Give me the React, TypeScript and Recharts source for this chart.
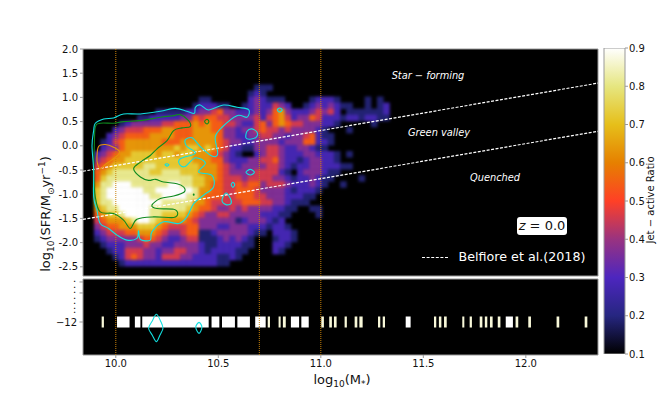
import React from "react";
import { ScatterChart, Scatter, XAxis, YAxis, CartesianGrid, ReferenceLine } from "recharts";

// log10(M*) and log10(SFR) ranges of the two panels
const massRange = [9.84, 12.352];
const sfrRange = [-2.69, 2.0];
const stripRange = [-15, -8.09];

const massTicks = [10.0, 10.5, 11.0, 11.5, 12.0];
const massMinorMarks = [11.12, 11.135, 11.16, 11.21];
const sfrTicks = [2.0, 1.5, 1.0, 0.5, 0.0, -0.5, -1.0, -1.5, -2.0, -2.5];
const stripMarks = [-8.36, -9.36];
const stripTicks = [-8.36, -8.9, -9.36, -9.82, -10.36, -10.73, -11.18, -12];
const ratioTicks = [0.1, 0.2, 0.3, 0.4, 0.5, 0.6, 0.7, 0.8, 0.9];
const splitMasses = [10.0, 10.7, 11.0];

// CMRmap
const colorStops = ["#000000", "#262680", "#4D26BF", "#993380", "#FF4026", "#E68000", "#E6BF1A", "#E6E680", "#FFFFFF"];

// binned jet-active ratio, one string per SFR row, digit 0-9 = ratio 0.1-0.9
const firstMass = 9.85;
const massStep = 0.03;
const firstSfr = 1.2;
const sfrStep = 0.125;
const heatRows = [
  "00000 00000 00000 00000 00000 00011 1",
  "00000 00000 00000 00000 00000 00121",
  "00000 00000 00000 00001 10000 00232 11100 00122 21000 01010",
  "00000 00000 00000 00012 22110 01232 24320 01232 32110 01012",
  "00000 00000 00111 11223 34533 22232 35632 22343 42011 11112",
  "00000 00001 12222 23354 55443 33342 45642 33542 22122 12211",
  "00000 01233 33344 55565 65544 32245 35654 43332 21000 00100",
  "00000 23444 55566 55566 65533 23345 44343 33321 00010",
  "00002 34555 56666 55566 66533 22334 43323 34521 10000",
  "00012 45666 66655 56666 66543 32233 33233 35522 10000",
  "00023 35666 66666 76776 76542 21133 44322 33211",
  "00234 56677 77677 67766 65432 10023 44322 23322 21010",
  "00345 66777 77777 77766 65532 22334 45322 12332 21",
  "00456 77777 88777 77776 66543 23333 44321 22332 22110",
  "00567 88888 87788 87776 66543 33344 44210 23332 11",
  "00578 88888 88888 88877 66544 43444 43321 22321 10000 1",
  "00688 99988 88889 98877 65544 54553 44432 22321 00100",
  "00789 99999 88999 99986 65544 55543 33321 22210",
  "00789 99999 98899 99886 55544 55544 33322 21100",
  "00788 99999 99988 88866 54444 45554 43321 11000",
  "00678 89999 98888 88765 54334 34333 32211 00110",
  "00567 78999 98877 77654 33443 33332 22110 00010",
  "00456 66789 98766 66543 33333 12333 21200",
  "00345 56667 77654 44553 33223 33222 12210",
  "00234 44556 66543 34551 12333 33211 02221",
  "00123 33334 55432 23441 11232 32100 01221",
  "00012 22333 43322 33332 11222 21100 02210",
  "00001 22444 33233 44332 12222 11000 02100",
  "00000 12454 33244 43322 22112 10000",
  "00000 01222 22222 22222 22110",
];

// [mass start, mass end] of the filled bins in the lower panel
const stripBins = [
  [9.931, 9.942], [10.006, 10.067], [10.093, 10.12], [10.129, 10.453], [10.467, 10.505], [10.518, 10.581],
  [10.593, 10.654], [10.68, 10.731], [10.741, 10.752], [10.794, 10.804], [10.815, 10.829], [10.854, 10.894],
  [10.905, 10.941], [11.002, 11.015], [11.041, 11.054], [11.064, 11.077], [11.116, 11.127], [11.165, 11.178],
  [11.188, 11.204], [11.279, 11.29], [11.302, 11.313], [11.414, 11.438], [11.552, 11.563], [11.576, 11.588],
  [11.601, 11.614], [11.69, 11.7], [11.726, 11.737], [11.775, 11.788], [11.8, 11.812], [11.825, 11.838],
  [11.863, 11.876], [11.902, 11.937], [11.95, 11.963], [12.012, 12.025], [12.15, 12.163], [12.287, 12.3],
];

// Belfiore et al. (2018) lines
const upperLine = [[9.84, -0.526], [12.352, 1.295]];
const lowerLine = [[9.84, -1.52], [12.352, 0.3]];

// contours, [mass, sfr]
const cyanMain = [
  [9.892, 0.315], [9.9, 0.466], [9.941, 0.555], [9.989, 0.575], [10.038, 0.658], [10.12, 0.658], [10.217, 0.713],
  [10.29, 0.774], [10.347, 0.713], [10.383, 0.671], [10.388, 0.795], [10.412, 0.843], [10.453, 0.74], [10.526, 0.843],
  [10.591, 0.795], [10.648, 0.747], [10.64, 0.589], [10.591, 0.623], [10.518, 0.383], [10.485, 0.178], [10.497, -0.165],
  [10.469, -0.213], [10.412, -0.014], [10.372, 0.164], [10.339, 0.123], [10.347, -0.014], [10.388, -0.152], [10.315, -0.268],
  [10.311, -0.385], [10.339, -0.426], [10.388, -0.248], [10.437, -0.357], [10.404, -0.542], [10.469, -0.611], [10.477, -0.851],
  [10.428, -1.022], [10.38, -1.194], [10.347, -1.468], [10.307, -1.606], [10.233, -1.571], [10.176, -1.777], [10.168, -1.948],
  [10.12, -1.935], [10.111, -1.756], [10.103, -1.914], [10.054, -1.948], [10.006, -1.846], [9.965, -1.708], [9.924, -1.606],
  [9.908, -1.331], [9.892, -1.057], [9.892, -0.508], [9.884, 0.0],
];
const cyanSmall = [
  [[10.24, -0.392], [10.25, -0.371], [10.259, -0.392], [10.25, -0.419]],
  [[10.635, 0.164], [10.64, 0.301], [10.664, 0.349], [10.689, 0.281], [10.685, 0.178], [10.656, 0.136]],
  [[10.635, -0.549], [10.656, -0.488], [10.676, -0.549], [10.656, -0.604]],
  [[10.563, -0.803], [10.571, -0.755], [10.58, -0.803], [10.571, -0.858]],
  [[10.518, -1.126], [10.537, -0.975], [10.559, -1.091], [10.562, -1.194], [10.537, -1.215]],
  [[10.788, 0.74], [10.799, 0.781], [10.812, 0.74], [10.799, 0.699]],
];
const greenMain = [
  [9.9, 0.383], [9.924, 0.466], [9.989, 0.466], [10.038, 0.5], [10.12, 0.521], [10.217, 0.589], [10.282, 0.623], [10.315, 0.644],
  [10.355, 0.521], [10.363, 0.397], [10.323, 0.37], [10.282, 0.315], [10.25, 0.109], [10.201, -0.062], [10.168, -0.2], [10.12, -0.337],
  [10.087, -0.474], [10.12, -0.645], [10.16, -0.714], [10.193, -0.693], [10.233, -0.748], [10.298, -0.783], [10.331, -0.851],
  [10.334, -0.954], [10.282, -1.036], [10.217, -1.091], [10.176, -1.228], [10.201, -1.297], [10.282, -1.311], [10.302, -1.4],
  [10.282, -1.482], [10.185, -1.468], [10.103, -1.516], [10.071, -1.708], [10.038, -1.537], [9.989, -1.4], [9.924, -1.366],
  [9.9, -1.057], [9.892, -0.577], [9.895, -0.028],
];
const greenSmall = [
  [[10.433, 0.5], [10.445, 0.548], [10.454, 0.5], [10.445, 0.452]],
  [[10.378, -1.009], [10.38, -0.995], [10.382, -1.009], [10.38, -1.02]],
];
const orangeLoop = [
  [9.908, -0.234], [9.916, -0.014], [9.949, 0.027], [9.989, -0.028], [10.019, -0.131], [9.989, -0.268], [9.949, -0.385],
  [9.924, -0.474], [9.911, -0.371],
];
const stripCyan = [
  [[10.16, -12.57], [10.178, -11.9], [10.198, -11.3], [10.218, -11.9], [10.23, -12.57], [10.215, -13.2], [10.198, -13.79], [10.178, -13.2]],
  [[10.39, -12.48], [10.406, -12.03], [10.42, -12.48], [10.406, -13.03]],
];

const WIDTH = 664;
const HEIGHT = 406;
const PLOT_LEFT = 83;
const PLOT_RIGHT = 598;
const pxPerMass = (PLOT_RIGHT - PLOT_LEFT) / (massRange[1] - massRange[0]);
const FONT = "'DejaVu Sans', sans-serif";
const SPINE = "#999999";
const CYAN = "#12e0e0";
const GREEN = "#0f8a1e";
const DOTTED = "#c9820a";
const TICK_TEXT = { fontSize: 10, fill: "#111", fontFamily: FONT };

const hexToRgb = (hex: string) => [1, 3, 5].map((i) => parseInt(hex.slice(i, i + 2), 16));

const ratioColor = (ratio: number) => {
  const t = Math.min(1, Math.max(0, (ratio - 0.1) / 0.8)) * (colorStops.length - 1);
  const i = Math.min(colorStops.length - 2, Math.floor(t));
  const a = hexToRgb(colorStops[i]);
  const b = hexToRgb(colorStops[i + 1]);
  const c = a.map((v, k) => Math.round(v + (b[k] - v) * (t - i)));
  return `rgb(${c[0]},${c[1]},${c[2]})`;
};

const heatCells = heatRows.flatMap((row, r) =>
  row
    .replace(/ /g, "")
    .split("")
    .map((ch, c) => ({ x: firstMass + c * massStep, y: firstSfr - r * sfrStep, ratio: 0.1 + (Number(ch) * 0.8) / 9 }))
    .filter((cell) => cell.ratio > 0.1)
);

const stripCells = stripBins.map(([a, b]) => ({ x: (a + b) / 2, y: -12, span: b - a, ratio: b - a < 0.02 ? 0.87 : 0.9 }));

const toPoints = (pts: number[][]) => pts.map(([x, y]) => ({ x, y }));

// closed Catmull-Rom, keeps the curve on the contour points
const smoothClosed = (ctx: any) => {
  let pts: number[][] = [];
  return {
    areaStart() {},
    areaEnd() {},
    lineStart() {
      pts = [];
    },
    point(x: number, y: number) {
      pts.push([x, y]);
    },
    lineEnd() {
      const n = pts.length;
      ctx.moveTo(pts[0][0], pts[0][1]);
      for (let i = 0; i < n; i++) {
        const p0 = pts[(i - 1 + n) % n];
        const p1 = pts[i];
        const p2 = pts[(i + 1) % n];
        const p3 = pts[(i + 2) % n];
        ctx.bezierCurveTo(
          p1[0] + (p2[0] - p0[0]) / 6,
          p1[1] + (p2[1] - p0[1]) / 6,
          p2[0] - (p3[0] - p1[0]) / 6,
          p2[1] - (p3[1] - p1[1]) / 6,
          p2[0],
          p2[1]
        );
      }
      ctx.closePath();
    },
  };
};

const HeatCell = (props: any) => {
  const w = massStep * pxPerMass + 0.5;
  const h = sfrStep * ((276 - 49) / (sfrRange[1] - sfrRange[0])) + 0.5;
  return <rect x={props.cx - w / 2} y={props.cy - h / 2} width={w} height={h} fill={ratioColor(props.payload.ratio)} />;
};

const StripCell = (props: any) => {
  const w = props.payload.span * pxPerMass;
  return <rect x={props.cx - w / 2} y={props.cy - 5.5} width={w} height={11} fill={ratioColor(props.payload.ratio)} />;
};

const StripTick = (props: any) => {
  const { y, payload } = props;
  const isMain = payload.value === -12;
  const hasMark = isMain || stripMarks.includes(payload.value);
  return (
    <g>
      {hasMark && <line x1={PLOT_LEFT - 3.5} x2={PLOT_LEFT} y1={y} y2={y} stroke={SPINE} />}
      {isMain ? (
        <text x={77} y={y + 3.5} textAnchor="end" {...TICK_TEXT}>
          {"\u221212"}
        </text>
      ) : (
        <text x={74.5} y={y + 1.5} textAnchor="middle" {...TICK_TEXT} fontSize={4.5}>
          {"\u2022"}
        </text>
      )}
    </g>
  );
};

const ColorBarCell = (props: any) => <rect x={604} y={48} width={21} height={306} fill="url(#ratioBar)" stroke={SPINE} />;

const renderContour = (key: string, pts: number[][], color: string, type: any = smoothClosed, width = 1.1, dash?: string) => (
  <Scatter
    key={key}
    data={toPoints(pts)}
    shape={() => null}
    line={{ stroke: color, strokeWidth: width, strokeDasharray: dash }}
    lineJointType={type}
    isAnimationActive={false}
  />
);

const renderSplits = (range: number[]) =>
  splitMasses.map((m) =>
    renderContour(`split${m}`, [[m, range[0]], [m, range[1]]], DOTTED, "linear", 1, "1 1")
  );

const overlayText = (left: number, top: number, style: React.CSSProperties = {}) => ({
  position: "absolute" as const,
  left,
  top,
  fontFamily: FONT,
  whiteSpace: "nowrap" as const,
  transform: "translate(-50%, -50%)",
  lineHeight: 1,
  ...style,
});

const App: React.FC = () => {
  return (
    <div style={{ position: "absolute", left: 0, top: 0, width: WIDTH, height: HEIGHT, background: "#fff", overflow: "hidden" }}>
      <style>{`.heat-cells { filter: blur(1.6px); } .strip-cells { filter: blur(0.5px); }`}</style>

      <div style={{ position: "absolute", left: 0, top: 0 }}>
        <ScatterChart width={WIDTH} height={HEIGHT} margin={{ top: 49, right: WIDTH - PLOT_RIGHT, left: 0, bottom: HEIGHT - 276 - 14 }}>
          <CartesianGrid horizontal={false} vertical={false} fill="#000" />
          <XAxis
            type="number"
            dataKey="x"
            domain={massRange}
            ticks={[...massTicks, ...massMinorMarks]}
            height={14}
            allowDataOverflow
            stroke={SPINE}
            tick={false}
            tickSize={3}
          />
          <YAxis
            type="number"
            dataKey="y"
            domain={sfrRange}
            ticks={sfrTicks}
            width={PLOT_LEFT}
            allowDataOverflow
            stroke={SPINE}
            tickSize={3}
            tick={TICK_TEXT}
            tickMargin={2}
            tickFormatter={(v: number) => v.toFixed(1)}
            interval={0}
          />
          <Scatter className="heat-cells" data={heatCells} shape={<HeatCell />} isAnimationActive={false} />
          {renderSplits(sfrRange)}
          {renderContour("upper", upperLine, "#fff", "linear", 1.2, "3 1.5")}
          {renderContour("lower", lowerLine, "#fff", "linear", 1.2, "3 1.5")}
          {renderContour("orange", orangeLoop, "#e6920a")}
          {renderContour("green", greenMain, GREEN)}
          {greenSmall.map((pts, i) => renderContour(`green${i}`, pts, GREEN))}
          {renderContour("cyan", cyanMain, CYAN)}
          {cyanSmall.map((pts, i) => renderContour(`cyan${i}`, pts, CYAN))}
          <ReferenceLine y={sfrRange[1]} stroke={SPINE} />
          <ReferenceLine x={massRange[1]} stroke={SPINE} />
        </ScatterChart>
      </div>

      <div style={{ position: "absolute", left: 0, top: 0 }}>
        <ScatterChart width={WIDTH} height={HEIGHT} margin={{ top: 279, right: WIDTH - PLOT_RIGHT, left: 0, bottom: 0 }}>
          <CartesianGrid horizontal={false} vertical={false} fill="#000" />
          <XAxis
            type="number"
            dataKey="x"
            domain={massRange}
            ticks={massTicks}
            height={51}
            allowDataOverflow
            stroke={SPINE}
            tickSize={3}
            tick={TICK_TEXT}
            tickMargin={2}
            tickFormatter={(v: number) => v.toFixed(1)}
            interval={0}
          />
          <YAxis
            type="number"
            dataKey="y"
            domain={stripRange}
            ticks={stripTicks}
            width={PLOT_LEFT}
            allowDataOverflow
            stroke={SPINE}
            tickLine={false}
            tick={<StripTick />}
            interval={0}
          />
          <Scatter className="strip-cells" data={stripCells} shape={<StripCell />} isAnimationActive={false} />
          {renderSplits(stripRange)}
          {stripCyan.map((pts, i) => renderContour(`strip${i}`, pts, CYAN))}
          <ReferenceLine y={stripRange[1]} stroke={SPINE} />
          <ReferenceLine x={massRange[1]} stroke={SPINE} />
        </ScatterChart>
      </div>

      <div style={{ position: "absolute", left: 0, top: 0 }}>
        <ScatterChart width={WIDTH} height={HEIGHT} margin={{ top: 48, right: 0, left: 604, bottom: HEIGHT - 354 }}>
          <defs>
            <linearGradient id="ratioBar" x1="0" y1="1" x2="0" y2="0">
              {colorStops.map((c, i) => (
                <stop key={c} offset={i / (colorStops.length - 1)} stopColor={c} />
              ))}
            </linearGradient>
          </defs>
          <XAxis type="number" dataKey="x" domain={[0, 1]} hide />
          <YAxis
            type="number"
            dataKey="y"
            orientation="right"
            domain={[0.1, 0.9]}
            ticks={ratioTicks}
            width={39}
            allowDataOverflow
            axisLine={false}
            stroke={SPINE}
            tickSize={3}
            tick={TICK_TEXT}
            tickMargin={1}
            tickFormatter={(v: number) => v.toFixed(1)}
            interval={0}
          />
          <Scatter data={[{ x: 0.5, y: 0.5 }]} shape={<ColorBarCell />} isAnimationActive={false} />
        </ScatterChart>
      </div>

      <div style={overlayText(428, 76, { fontSize: 9.8, fontStyle: "italic", color: "#fff" })}>Star − forming</div>
      <div style={overlayText(439, 133, { fontSize: 9.8, fontStyle: "italic", color: "#fff" })}>Green valley</div>
      <div style={overlayText(495, 178, { fontSize: 9.8, fontStyle: "italic", color: "#fff" })}>Quenched</div>
      <div
        style={{
          position: "absolute",
          left: 517,
          top: 217,
          width: 50,
          height: 18,
          background: "#fff",
          borderRadius: 3,
          fontFamily: FONT,
          fontSize: 13,
          lineHeight: "18px",
          textAlign: "center",
          color: "#111",
          whiteSpace: "nowrap",
        }}
      >
        <i>z</i> = 0.0
      </div>
      <div style={{ position: "absolute", left: 422, top: 257, width: 26, borderTop: "1px dashed #fff" }} />
      <div style={overlayText(522, 257, { fontSize: 12.7, color: "#fff" })}>Belfiore et al.(2018)</div>

      <div style={overlayText(342, 381, { fontSize: 13, color: "#111" })}>
        log<sub style={{ fontSize: 9 }}>10</sub>(M<sub style={{ fontSize: 9 }}>*</sub>)
      </div>
      <div style={overlayText(47, 214, { fontSize: 13, color: "#111", transform: "translate(-50%, -50%) rotate(-90deg)" })}>
        log<sub style={{ fontSize: 9 }}>10</sub>(SFR/M<sub style={{ fontSize: 9 }}>⊙</sub>yr<sup style={{ fontSize: 9 }}>−1</sup>)
      </div>
      <div style={overlayText(651, 200, { fontSize: 10, color: "#111", transform: "translate(-50%, -50%) rotate(-90deg)" })}>
        Jet − active Ratio
      </div>
    </div>
  );
};

export default App;
